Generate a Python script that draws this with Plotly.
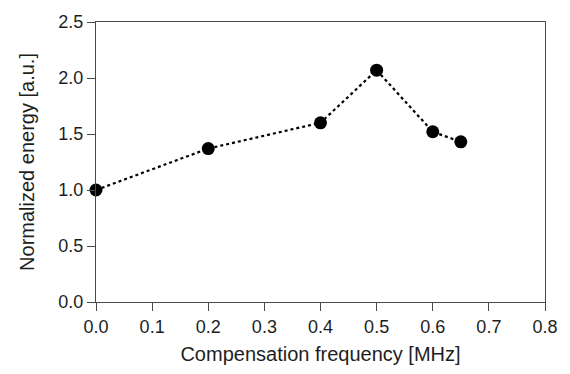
import plotly.graph_objects as go

# Compensation frequency [MHz] and normalized energy [a.u.]
freq_mhz = [0.0, 0.2, 0.4, 0.5, 0.6, 0.65]
energy = [1.0, 1.37, 1.60, 2.07, 1.52, 1.43]

x_ticks = [0.0, 0.1, 0.2, 0.3, 0.4, 0.5, 0.6, 0.7, 0.8]
y_ticks = [0.0, 0.5, 1.0, 1.5, 2.0, 2.5]

fig = go.Figure(
    go.Scatter(
        x=freq_mhz,
        y=energy,
        mode="lines+markers",
        line=dict(color="black", width=2.2, dash="dot"),
        marker=dict(color="black", size=13),
        cliponaxis=False,
    )
)

font_family = "Liberation Sans, Arial"
text_color = "#1e1e1e"

axis_common = dict(
    showline=True,
    linecolor="#4a4a4a",
    linewidth=1.4,
    mirror=True,
    ticks="outside",
    ticklen=8,
    tickcolor="#4a4a4a",
    tickwidth=1.4,
    showgrid=False,
    zeroline=False,
    tickfont=dict(family=font_family, size=18, color=text_color),
)

fig.update_xaxes(
    range=[0, 0.8],
    tickvals=x_ticks,
    ticktext=[f"{v:.1f}" for v in x_ticks],
    title=dict(text="Compensation frequency [MHz]",
               font=dict(family=font_family, size=20, color=text_color),
               standoff=11),
    **axis_common,
)
fig.update_yaxes(
    range=[0, 2.5],
    tickvals=y_ticks,
    ticktext=[f"{v:.1f}" for v in y_ticks],
    title=dict(text="Normalized energy [a.u.]",
               font=dict(family=font_family, size=20, color=text_color),
               standoff=18),
    **axis_common,
)

fig.update_layout(
    width=570,
    height=374,
    margin=dict(l=96, r=22, t=16, b=70),
    plot_bgcolor="white",
    paper_bgcolor="white",
    showlegend=False,
)

fig.write_html("out.html")
